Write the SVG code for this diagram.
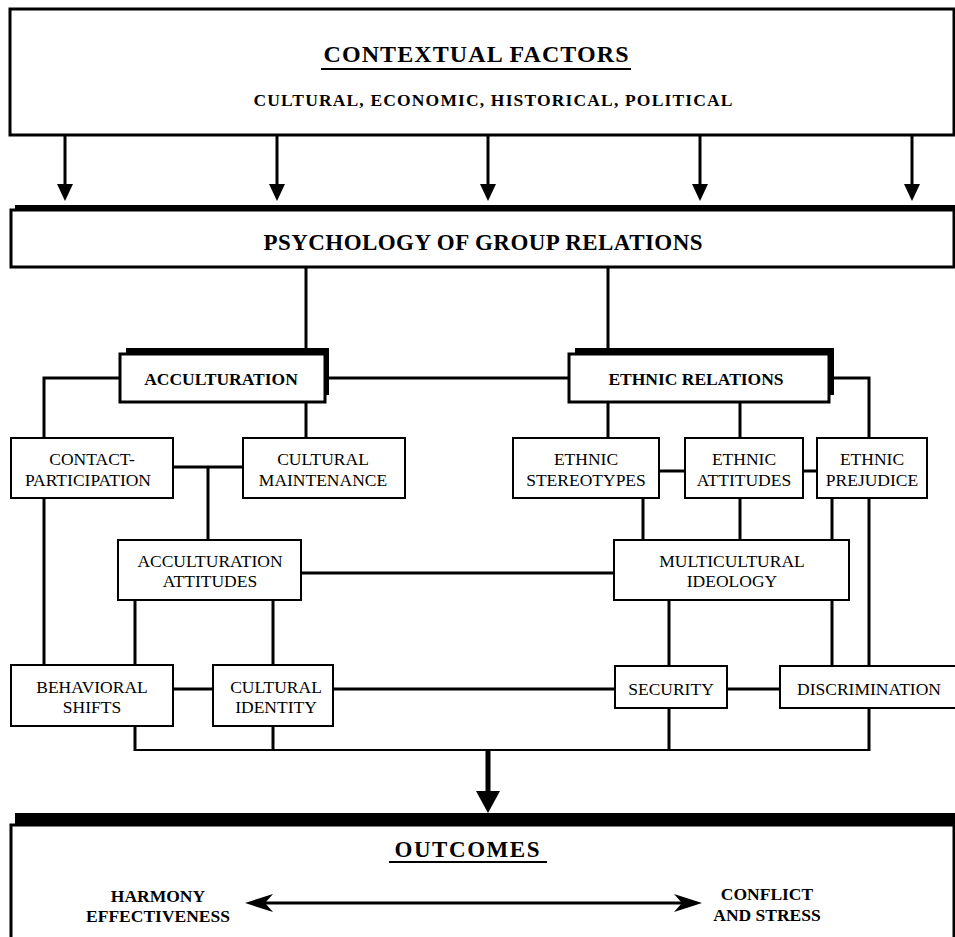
<svg xmlns="http://www.w3.org/2000/svg" width="955" height="937" viewBox="0 0 955 937">
<style>
  .big { fill: #fff; stroke: #000; stroke-width: 3; }
  .box { fill: #fff; stroke: #000; stroke-width: 2; }
  .shadow { fill: #000; stroke: none; }
  .ln { stroke: #000; stroke-width: 3; fill: none; }
  .thin { stroke: #000; stroke-width: 2; fill: none; }
  .head { fill: #000; stroke: none; }
  .t { font-family: "Liberation Serif", "Times New Roman", serif; font-size: 17.5px; text-anchor: middle; fill: #000; }
  .b { font-family: "Liberation Serif", "Times New Roman", serif; font-weight: bold; text-anchor: middle; fill: #000; }
</style>
<rect width="955" height="937" fill="#fff"/>

<g id="connectors">
  <!-- context arrows -->
  <line class="ln" x1="65" y1="135" x2="65" y2="188"/>
  <line class="ln" x1="277" y1="135" x2="277" y2="188"/>
  <line class="ln" x1="488" y1="135" x2="488" y2="188"/>
  <line class="ln" x1="700" y1="135" x2="700" y2="188"/>
  <line class="ln" x1="912" y1="135" x2="912" y2="188"/>
  <polygon class="head" points="57,184 73,184 65,201"/>
  <polygon class="head" points="269,184 285,184 277,201"/>
  <polygon class="head" points="480,184 496,184 488,201"/>
  <polygon class="head" points="692,184 708,184 700,201"/>
  <polygon class="head" points="904,184 920,184 912,201"/>

  <!-- psychology to acculturation / ethnic relations -->
  <line class="ln" x1="306" y1="267" x2="306" y2="349"/>
  <line class="ln" x1="608" y1="267" x2="608" y2="349"/>
  <line class="ln" x1="329" y1="378" x2="569" y2="378"/>
  <polyline class="ln" points="120,378 44,378 44,438"/>
  <polyline class="ln" points="834,378 869,378 869,438"/>
  <line class="ln" x1="306" y1="402" x2="306" y2="438"/>
  <line class="ln" x1="608" y1="402" x2="608" y2="438"/>
  <line class="ln" x1="740" y1="402" x2="740" y2="438"/>

  <!-- second row -->
  <line class="ln" x1="173" y1="467" x2="243" y2="467"/>
  <line class="ln" x1="208" y1="467" x2="208" y2="540"/>
  <line class="ln" x1="659" y1="471" x2="685" y2="471"/>
  <line class="ln" x1="803" y1="471" x2="817" y2="471"/>
  <line class="ln" x1="44" y1="498" x2="44" y2="665"/>
  <line class="ln" x1="643" y1="498" x2="643" y2="540"/>
  <line class="ln" x1="740" y1="498" x2="740" y2="540"/>
  <line class="ln" x1="832" y1="498" x2="832" y2="540"/>
  <line class="ln" x1="869" y1="498" x2="869" y2="666"/>

  <!-- attitudes / ideology -->
  <line class="ln" x1="301" y1="573" x2="614" y2="573"/>
  <line class="ln" x1="135" y1="600" x2="135" y2="665"/>
  <line class="ln" x1="273" y1="600" x2="273" y2="665"/>
  <line class="ln" x1="669" y1="600" x2="669" y2="666"/>
  <line class="ln" x1="832" y1="600" x2="832" y2="666"/>

  <!-- bottom row -->
  <line class="ln" x1="173" y1="689" x2="213" y2="689"/>
  <line class="ln" x1="333" y1="689" x2="615" y2="689"/>
  <line class="ln" x1="727" y1="689" x2="780" y2="689"/>
  <line class="ln" x1="135" y1="726" x2="135" y2="751"/>
  <line class="ln" x1="273" y1="726" x2="273" y2="751"/>
  <line class="ln" x1="669" y1="708" x2="669" y2="751"/>
  <line class="ln" x1="869" y1="708" x2="869" y2="751"/>
  <line class="thin" x1="134" y1="750" x2="870" y2="750"/>

  <!-- to outcomes -->
  <line class="ln" style="stroke-width:5" x1="488" y1="750" x2="488" y2="795"/>
  <polygon class="head" points="476,791 500,791 488,813"/>
</g>

<g id="contextual-factors">
  <rect class="big" x="10" y="9" width="944" height="126"/>
  <text class="b" x="476" y="62" font-size="24" textLength="305" lengthAdjust="spacing">CONTEXTUAL FACTORS</text>
  <line class="thin" x1="321" y1="69" x2="631" y2="69"/>
  <text class="b" x="493" y="106" font-size="17.5" textLength="479" lengthAdjust="spacing">CULTURAL, ECONOMIC, HISTORICAL, POLITICAL</text>
</g>

<g id="psychology-of-group-relations">
  <rect class="shadow" x="15" y="205" width="945" height="10"/>
  <rect class="big" x="11" y="210" width="943" height="57"/>
  <text class="b" x="483" y="250" font-size="23" textLength="439" lengthAdjust="spacing">PSYCHOLOGY OF GROUP RELATIONS</text>
</g>

<g id="acculturation">
  <rect class="shadow" x="126" y="348" width="203" height="47"/>
  <rect class="big" x="120" y="354" width="205" height="48"/>
  <text class="b" x="221" y="385" font-size="17.5">ACCULTURATION</text>
</g>

<g id="ethnic-relations">
  <rect class="shadow" x="575" y="348" width="259" height="47"/>
  <rect class="big" x="569" y="354" width="260" height="48"/>
  <text class="b" x="696" y="385" font-size="17.5">ETHNIC RELATIONS</text>
</g>

<g id="contact-participation">
  <rect class="box" x="11" y="438" width="162" height="60"/>
  <text class="t" x="92" y="465">CONTACT-</text>
  <text class="t" x="88" y="486">PARTICIPATION</text>
</g>

<g id="cultural-maintenance">
  <rect class="box" x="243" y="438" width="162" height="60"/>
  <text class="t" x="323" y="465">CULTURAL</text>
  <text class="t" x="323" y="486">MAINTENANCE</text>
</g>

<g id="ethnic-stereotypes">
  <rect class="box" x="513" y="438" width="146" height="60"/>
  <text class="t" x="586" y="465">ETHNIC</text>
  <text class="t" x="586" y="486">STEREOTYPES</text>
</g>

<g id="ethnic-attitudes">
  <rect class="box" x="685" y="438" width="118" height="60"/>
  <text class="t" x="744" y="465">ETHNIC</text>
  <text class="t" x="744" y="486">ATTITUDES</text>
</g>

<g id="ethnic-prejudice">
  <rect class="box" x="817" y="438" width="110" height="60"/>
  <text class="t" x="872" y="465">ETHNIC</text>
  <text class="t" x="872" y="486">PREJUDICE</text>
</g>

<g id="acculturation-attitudes">
  <rect class="box" x="118" y="540" width="183" height="60"/>
  <text class="t" x="210" y="567">ACCULTURATION</text>
  <text class="t" x="210" y="587">ATTITUDES</text>
</g>

<g id="multicultural-ideology">
  <rect class="box" x="614" y="540" width="235" height="60"/>
  <text class="t" x="732" y="567">MULTICULTURAL</text>
  <text class="t" x="732" y="587">IDEOLOGY</text>
</g>

<g id="behavioral-shifts">
  <rect class="box" x="11" y="665" width="162" height="61"/>
  <text class="t" x="92" y="693">BEHAVIORAL</text>
  <text class="t" x="92" y="713">SHIFTS</text>
</g>

<g id="cultural-identity">
  <rect class="box" x="213" y="665" width="120" height="61"/>
  <text class="t" x="276" y="693">CULTURAL</text>
  <text class="t" x="276" y="713">IDENTITY</text>
</g>

<g id="security">
  <rect class="box" x="615" y="666" width="112" height="42"/>
  <text class="t" x="671" y="695">SECURITY</text>
</g>

<g id="discrimination">
  <rect class="box" x="780" y="666" width="180" height="42"/>
  <text class="t" x="869" y="695">DISCRIMINATION</text>
</g>

<g id="outcomes">
  <rect class="shadow" x="15" y="813" width="945" height="14"/>
  <rect class="big" x="11" y="825" width="943" height="130"/>
  <text class="b" x="467" y="857" font-size="23" textLength="145" lengthAdjust="spacing">OUTCOMES</text>
  <line class="thin" x1="389" y1="862" x2="547" y2="862"/>
  <text class="b" x="158" y="902" font-size="17.5">HARMONY</text>
  <text class="b" x="158" y="922" font-size="17.5">EFFECTIVENESS</text>
  <text class="b" x="767" y="900" font-size="17.5">CONFLICT</text>
  <text class="b" x="767" y="921" font-size="17.5">AND STRESS</text>
  <line class="ln" x1="262" y1="903" x2="685" y2="903"/>
  <path class="head" d="M245,903 L273,894 L265,903 L273,912 Z"/>
  <path class="head" d="M702,903 L674,894 L682,903 L674,912 Z"/>
</g>
</svg>
